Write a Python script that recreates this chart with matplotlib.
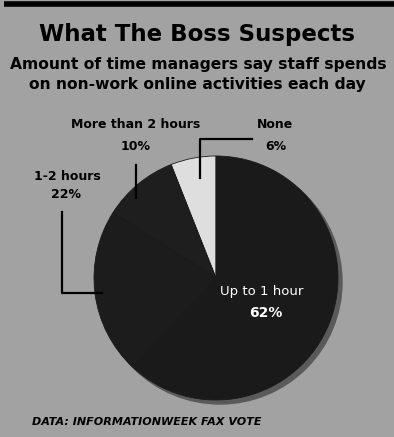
import matplotlib
matplotlib.use("Agg")
import matplotlib.pyplot as plt
from matplotlib.patches import Circle

# data
labels = ["None", "More than 2 hours", "1-2 hours", "Up to 1 hour"]
shares = [6, 10, 22, 62]
slice_colors = ["#dedede", "#1e1e1e", "#1c1c1c", "#1a1a1a"]

title = "What The Boss Suspects"
subtitle = ["Amount of time managers say staff spends",
            "on non-work online activities each day"]
source = "DATA: INFORMATIONWEEK FAX VOTE"

W, H = 394, 437
bg = "#a2a2a2"

fig = plt.figure(figsize=(W / 100, H / 100), dpi=100)
fig.patch.set_facecolor(bg)
ax = fig.add_axes([0, 0, 1, 1])

# pie drawn in pixel-like coords, y axis flipped below
cx, cy, r = 216, 278, 122
ax.add_patch(Circle((cx + 4, cy + 4), r, color="#5a5a5a", zorder=1))
wedges, _ = ax.pie(shares, colors=slice_colors, startangle=270, counterclock=False,
                   center=(cx, cy), radius=r, frame=True,
                   wedgeprops=dict(linewidth=0.6, edgecolor="#1a1a1a"))
for w in wedges:
    w.set_zorder(2)
ax.set_xlim(0, W)
ax.set_ylim(H, 0)
ax.set_aspect("equal")
ax.axis("off")

# top rule
ax.plot([4, W], [4, 4], color="black", lw=4, solid_capstyle="butt")

bold = dict(fontweight="bold", color="black", va="center")

ax.text(197, 35, title, fontsize=16.5, ha="center", fontweight="heavy",
        color="black", va="center")
ax.text(198, 65, subtitle[0], fontsize=11.2, ha="center", **bold)
ax.text(197, 84, subtitle[1], fontsize=11.2, ha="center", **bold)

# slice labels
ax.text(136, 125, labels[1], fontsize=9, ha="center", **bold)
ax.text(136, 146, f"{shares[1]}%", fontsize=9, ha="center", **bold)
ax.text(275, 125, labels[0], fontsize=9, ha="center", **bold)
ax.text(276, 146, f"{shares[0]}%", fontsize=9, ha="center", **bold)
ax.text(67, 176, labels[2], fontsize=9, ha="center", **bold)
ax.text(66, 195, f"{shares[2]}%", fontsize=9, ha="center", **bold)
ax.text(262, 291, labels[3], fontsize=9.5, color="white", ha="center", va="center",
        zorder=5)
ax.text(266, 313, f"{shares[3]}%", fontsize=10, color="white", ha="center",
        va="center", fontweight="bold", zorder=5)

# leader lines
lk = dict(color="black", lw=1.6, zorder=4)
ax.plot([136, 136], [165, 198], **lk)
ax.plot([252, 200, 200], [139, 139, 178], **lk)
ax.plot([62, 62, 102], [212, 293, 293], **lk)

ax.text(32, 422, source, fontsize=8, style="italic", ha="left", **bold)

fig.savefig("out.png", dpi=100, facecolor=bg)
